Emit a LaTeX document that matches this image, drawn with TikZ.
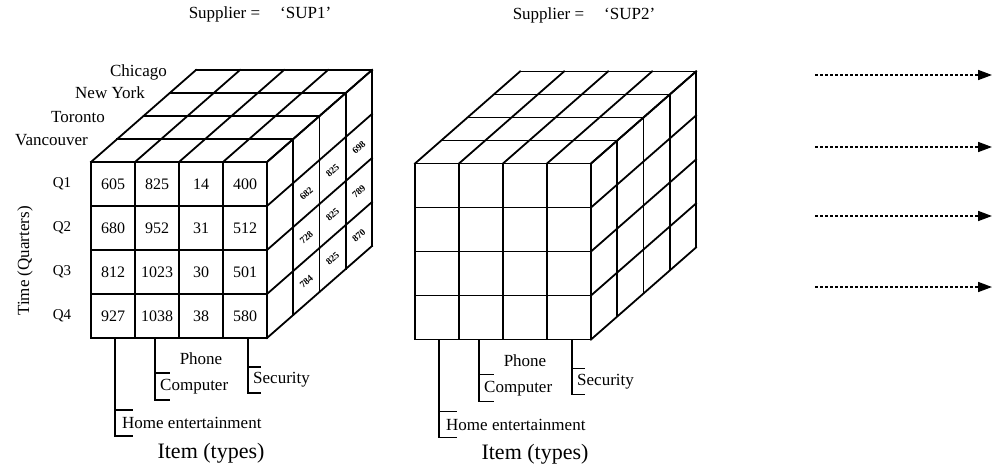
\documentclass[tikz,border=0pt]{standalone}
\usepackage{fontspec}
\setmainfont{Liberation Serif}
\usetikzlibrary{arrows.meta}

\tikzset{
  grid line/.style={line width=1.8pt, line cap=rect},
  bracket/.style={line width=1.8pt},
  cell val/.style={font=\fontsize{16}{18}\selectfont, inner sep=0pt},
  side val/.style={font=\fontsize{9.5}{10}\selectfont\bfseries, rotate=41, inner sep=0pt},
  lbl/.style={font=\fontsize{17}{19}\selectfont, inner sep=0pt},
  q lbl/.style={font=\fontsize{15}{17}\selectfont, inner sep=0pt},
  axis lbl/.style={font=\fontsize{22}{24}\selectfont, inner sep=0pt},
  slice arrow/.style={line width=1.6pt, dash pattern=on 3pt off 2pt,
                      -{Triangle[length=14pt,width=10pt]}}
}

\begin{document}
\begin{tikzpicture}[x=1pt, y=-1pt]
  % Page is 993 x 471, (0,0) at the top left
  \useasboundingbox (0,0) rectangle (993,471);

  % Draw the two supplier cubes with their item labels
  \foreach \cx/\cy/\sname [count=\n] in {0/0/SUP1, 324/1.5/SUP2} {
    \begin{scope}[shift={(\cx,\cy)}]
      % Front face grid
      \foreach \i in {0,...,4} {
        \draw[grid line] ({91+44*\i},162) -- ({91+44*\i},338);
        \draw[grid line] (91,{162+44*\i}) -- (267,{162+44*\i});
      }
      % Top face grid
      \foreach \i in {0,...,4} {
        \draw[grid line] ({91+26.25*\i},{162-23*\i}) -- ({267+26.25*\i},{162-23*\i});
        \draw[grid line] ({91+44*\i},162) -- ++(105,-92);
      }
      % Side face grid
      \foreach \i in {0,...,4} {
        \draw[grid line] ({267+26.25*\i},{162-23*\i}) -- ({267+26.25*\i},{338-23*\i});
        \draw[grid line] (267,{162+44*\i}) -- ++(105,-92);
      }

      % Supplier title
      \node[lbl] (sup\n) at (260,14) {Supplier =\hspace{20pt}`\sname'};

      % Item labels under the front face
      \draw[bracket] (115,338) |- (133,436) (115,410) -- (133,410);
      \node[lbl, anchor=west] (home\n) at (122,423) {Home entertainment};
      \draw[bracket] (155,338) |- (170,400) (155,373) -- (170,373);
      \node[lbl, anchor=west] (comp\n) at (160,387) {Computer};
      \node[lbl] (phone\n) at (201,359) {Phone};
      \draw[bracket] (248,338) |- (261,393) (248,367) -- (261,367);
      \node[lbl, anchor=west] (sec\n) at (253,380) {Security};
      \node[axis lbl] (item\n) at (211,453) {Item (types)};
    \end{scope}
  }

  % Sales figures on the front face
  \foreach \va/\vb/\vc/\vd [count=\r] in {605/825/14/400, 680/952/31/512,
                                          812/1023/30/501, 927/1038/38/580} {
    \node[cell val] (v\r-1) at (113,{140+44*\r}) {\va};
    \node[cell val] (v\r-2) at (157,{140+44*\r}) {\vb};
    \node[cell val] (v\r-3) at (201,{140+44*\r}) {\vc};
    \node[cell val] (v\r-4) at (245,{140+44*\r}) {\vd};
  }

  % Figures on the side face
  \foreach \k/\r/\val in {2/2/682, 2/3/728, 2/4/784, 3/2/825, 3/3/825,
                          3/4/825, 4/2/698, 4/3/789, 4/4/870}
    \node[side val] (s\k-\r) at ({267+26.25*(\k-0.5)},{162+44*(\r-0.5)-23*(\k-0.5)}) {\val};

  % Quarters down the left
  \foreach \r in {1,...,4}
    \node[q lbl] (q\r) at (62,{140+44*\r}) {Q\r};
  \node[lbl, rotate=90] (time) at (25,261) {Time (Quarters)};

  % Cities along the top face
  \node[lbl, anchor=east] (chicago) at (167,72) {Chicago};
  \node[lbl, anchor=east] (newyork) at (145,93) {New York};
  \node[lbl, anchor=east] (toronto) at (105,117) {Toronto};
  \node[lbl, anchor=east] (vancouver) at (88,140) {Vancouver};

  % Dotted arrows for the further suppliers
  \foreach \y [count=\i] in {75,147,216,287} {
    \coordinate (from\i) at (815,\y);
    \coordinate (to\i) at (992,\y);
    \draw[slice arrow] (from\i) -- (to\i);
  }
\end{tikzpicture}
\end{document}
